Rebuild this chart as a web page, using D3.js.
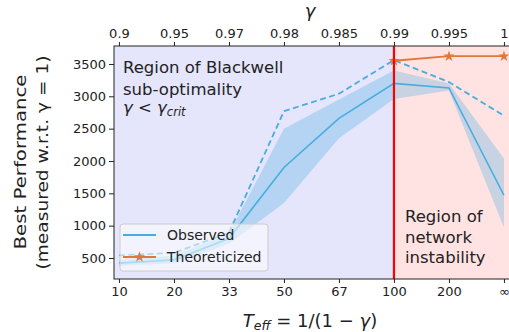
<!DOCTYPE html>
<html>
<head>
<meta charset="utf-8">
<script src="https://cdn.jsdelivr.net/npm/d3@7"></script>
<style>
  body { margin: 0; background: #fff; }
  svg { font-family: 'DejaVu Sans', sans-serif; }
</style>
</head>
<body>
<div id="chart"></div>
<script>
const W = 509, H = 332;
const FONT = 'DejaVu Sans';

// x positions are category indices, labelled on both axes
const tEffLabels = ['10', '20', '33', '50', '67', '100', '200', '\u221e'];
const gammaLabels = ['0.9', '0.95', '0.97', '0.98', '0.985', '0.99', '0.995', '1'];
const yTicks = [500, 1000, 1500, 2000, 2500, 3000, 3500];

const observed = [420, 470, 800, 1900, 2660, 3200, 3130, 1470];
const observedLow = [380, 420, 720, 1350, 2350, 2960, 3090, 970];
const observedHigh = [470, 540, 880, 2500, 2950, 3400, 3200, 2040];
const observedMax = [540, 580, 890, 2770, 3040, 3560, 3220, 2700];

const theoryIdx = [5, 6, 7];
const theory = [3550, 3620, 3620];

const critIdx = 5;

const margin = { top: 46, right: 0, bottom: 53, left: 114 };
const plotW = 396, plotH = H - margin.top - margin.bottom;

const svg = d3.select('#chart').append('svg')
  .attr('width', W).attr('height', H);

const x = d3.scaleLinear().domain([-0.09, 7.11]).range([0, plotW]);
const y = d3.scaleLinear().domain([175, 3778]).range([plotH, 0]);

const g = svg.append('g').attr('transform', `translate(${margin.left},${margin.top})`);

const clip = svg.append('clipPath').attr('id', 'plot-clip');
clip.append('rect').attr('width', plotW).attr('height', plotH);
const plot = g.append('g').attr('clip-path', 'url(#plot-clip)');

// regions
plot.append('rect')
  .attr('x', 0).attr('y', 0)
  .attr('width', x(critIdx)).attr('height', plotH)
  .attr('fill', '#e5e5fb');
plot.append('rect')
  .attr('x', x(critIdx)).attr('y', 0)
  .attr('width', plotW - x(critIdx)).attr('height', plotH)
  .attr('fill', '#ffe2e2');

const blue = '#47ade0';
const orange = '#e0783a';

// confidence band
plot.append('path')
  .datum(observed)
  .attr('fill', blue)
  .attr('fill-opacity', 0.3)
  .attr('d', d3.area()
    .x((_d, i) => x(i))
    .y0((_d, i) => y(observedLow[i]))
    .y1((_d, i) => y(observedHigh[i])));

// max (dashed)
plot.append('path')
  .datum(observedMax)
  .attr('fill', 'none')
  .attr('stroke', blue)
  .attr('stroke-width', 1.8)
  .attr('stroke-dasharray', '6,3.5')
  .attr('d', d3.line().x((_d, i) => x(i)).y(d => y(d)));

// mean
plot.append('path')
  .datum(observed)
  .attr('fill', 'none')
  .attr('stroke', blue)
  .attr('stroke-width', 1.6)
  .attr('d', d3.line().x((_d, i) => x(i)).y(d => y(d)));

// theoretical line with stars
plot.append('path')
  .datum(theory)
  .attr('fill', 'none')
  .attr('stroke', orange)
  .attr('stroke-width', 1.8)
  .attr('d', d3.line().x((_d, i) => x(theoryIdx[i])).y(d => y(d)));

const star = d3.symbol().type(d3.symbolStar).size(38);
plot.selectAll('.star')
  .data(theory)
  .join('path')
  .attr('class', 'star')
  .attr('transform', (d, i) => `translate(${x(theoryIdx[i])},${y(d)})`)
  .attr('d', star)
  .attr('fill', orange);

// critical gamma
plot.append('line')
  .attr('x1', x(critIdx)).attr('x2', x(critIdx))
  .attr('y1', 0).attr('y2', plotH)
  .attr('stroke', '#ff0000')
  .attr('stroke-width', 2.2);

// region annotations
const NOTE = '16.5px';
const leftNote = g.append('text')
  .attr('x', 9).attr('y', 27)
  .style('font-size', NOTE).style('fill', '#222');
leftNote.append('tspan').attr('x', 9).attr('dy', 0).text('Region of Blackwell');
leftNote.append('tspan').attr('x', 9).attr('dy', 21.5).text('sub-optimality');
const gl = g.append('text')
  .attr('x', 9).attr('y', 67)
  .style('font-size', NOTE).style('fill', '#222');
gl.append('tspan').style('font-style', 'italic').text('\u03b3');
gl.append('tspan').text(' < ');
gl.append('tspan').style('font-style', 'italic').text('\u03b3');
gl.append('tspan').style('font-style', 'italic').style('font-size', '11.5px')
  .attr('dy', 3).text('crit');

const rightNote = g.append('text')
  .attr('y', 176)
  .style('font-size', NOTE).style('fill', '#222');
['Region of', 'network', 'instability'].forEach((t, i) => {
  rightNote.append('tspan')
    .attr('x', x(critIdx) + 11)
    .attr('dy', i === 0 ? 0 : 20.5)
    .text(t);
});

// legend
const leg = g.append('g').attr('transform', 'translate(6,178)');
leg.append('rect')
  .attr('width', 148).attr('height', 47)
  .attr('rx', 3)
  .attr('fill', '#ffffff').attr('fill-opacity', 0.55)
  .attr('stroke', '#cccccc').attr('stroke-width', 1);
leg.append('line').attr('x1', 3).attr('x2', 36).attr('y1', 11).attr('y2', 11)
  .attr('stroke', blue).attr('stroke-width', 2);
leg.append('text').attr('x', 47).attr('y', 16)
  .style('font-size', '14px').style('fill', '#222').text('Observed');
leg.append('line').attr('x1', 3).attr('x2', 36).attr('y1', 33).attr('y2', 33)
  .attr('stroke', orange).attr('stroke-width', 2);
leg.append('path').attr('transform', 'translate(19.5,33)').attr('d', star)
  .attr('fill', orange);
leg.append('text').attr('x', 47).attr('y', 38)
  .style('font-size', '14px').style('fill', '#222').text('Theoreticized');

// axes
const xIdx = d3.range(tEffLabels.length);

const xBottom = g.append('g')
  .attr('transform', `translate(0,${plotH})`)
  .call(d3.axisBottom(x).tickValues(xIdx).tickFormat(i => tEffLabels[i])
    .tickSizeOuter(0).tickSize(4).tickPadding(4));

const xTop = g.append('g')
  .call(d3.axisTop(x).tickValues(xIdx).tickFormat(i => gammaLabels[i])
    .tickSizeOuter(0).tickSize(4).tickPadding(4));

const yLeft = g.append('g')
  .call(d3.axisLeft(y).tickValues(yTicks).tickFormat(d3.format('d'))
    .tickSizeOuter(0).tickSize(5).tickPadding(3));

[xBottom, xTop, yLeft].forEach(a => {
  a.selectAll('text').style('font-family', FONT).style('font-size', '13px').style('fill', '#222');
  a.selectAll('line').attr('stroke', '#222');
  a.select('.domain').remove();
});

// frame
g.append('rect')
  .attr('width', plotW).attr('height', plotH)
  .attr('fill', 'none').attr('stroke', '#222').attr('stroke-width', 1);

// axis labels
svg.append('text')
  .attr('x', 310).attr('y', 17)
  .attr('text-anchor', 'middle')
  .style('font-size', '18px').style('font-style', 'italic').style('fill', '#222')
  .text('\u03b3');

const xl = svg.append('text')
  .attr('x', 310).attr('y', 327)
  .attr('text-anchor', 'middle')
  .style('font-size', '18px').style('fill', '#222');
xl.append('tspan').style('font-style', 'italic').text('T');
xl.append('tspan').style('font-style', 'italic').style('font-size', '12.5px')
  .attr('dy', 3).text('eff');
xl.append('tspan').attr('dy', -3).text(' = 1/(1 \u2212 ');
xl.append('tspan').style('font-style', 'italic').text('\u03b3');
xl.append('tspan').text(')');

const yl = svg.append('g')
  .attr('transform', `translate(0,${margin.top + plotH / 2}) rotate(-90)`)
  .style('font-size', '16.5px').style('fill', '#222');
yl.append('text').attr('x', -87).attr('y', 26)
  .attr('textLength', 175).attr('lengthAdjust', 'spacingAndGlyphs')
  .text('Best Performance');
yl.append('text').attr('x', -107).attr('y', 48)
  .attr('textLength', 214).attr('lengthAdjust', 'spacingAndGlyphs')
  .text('(measured w.r.t. \u03b3 = 1)');
</script>
</body>
</html>
